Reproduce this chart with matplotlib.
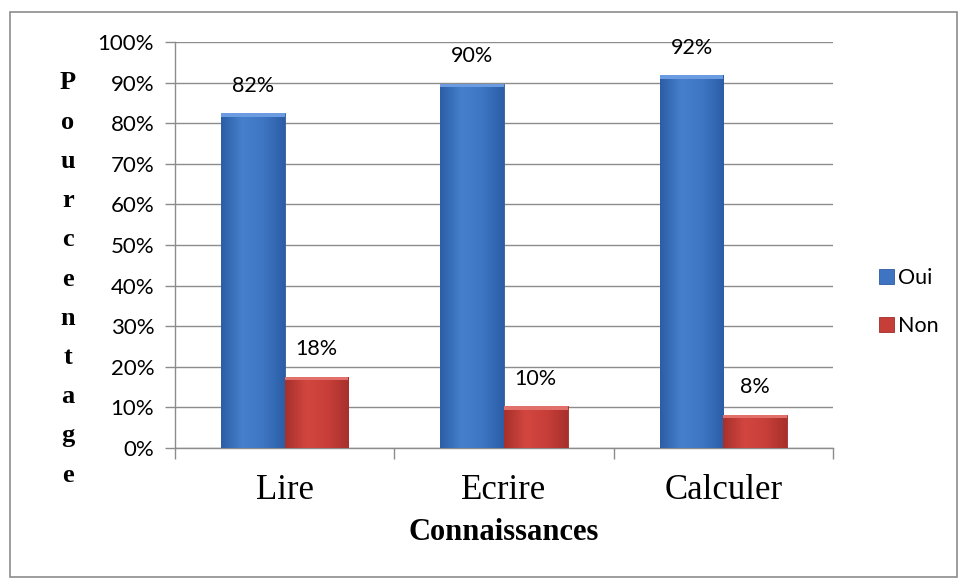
import numpy as np
import matplotlib.pyplot as plt
from matplotlib.patches import Rectangle
from matplotlib.colors import LinearSegmentedColormap

categories = ["Lire", "Ecrire", "Calculer"]
oui = [82.4, 89.7, 91.8]
non = [17.6, 10.3, 8.2]
oui_labels = ["82%", "90%", "92%"]
non_labels = ["18%", "10%", "8%"]
yticks = [0, 10, 20, 30, 40, 50, 60, 70, 80, 90, 100]

blue = "#3e74c2"
red = "#c63e38"
sans = ["Lato", "DejaVu Sans"]

blue_cm = LinearSegmentedColormap.from_list("b", ["#2c5ea6", "#4680cc", "#3e76c4", "#2c5ea6"])
red_cm = LinearSegmentedColormap.from_list("r", ["#a8302c", "#d2463f", "#c83f39", "#a8302c"])

fig = plt.figure(figsize=(9.6, 5.81), dpi=100)
# outer chart border
fig.patches.append(Rectangle((10 / 960, 4 / 581), 947 / 960, 565 / 581,
                             transform=fig.transFigure, fill=False,
                             edgecolor="#8c8c8c", linewidth=1.2))

ax = fig.add_axes([175 / 960, (581 - 448) / 581, 658 / 960, 406 / 581])
x = np.arange(len(categories))
w = 0.29
b1 = ax.bar(x - w / 2, oui, w, color=blue, edgecolor="#2d5a9e", linewidth=0.6, label="Oui", zorder=3)
b2 = ax.bar(x + w / 2, non, w, color=red, edgecolor="#9e2c28", linewidth=0.6, label="Non", zorder=3)

# shaded look like the office bevel bars
grad = np.linspace(0, 1, 64).reshape(1, -1)
for bars, cm, top in ((b1, blue_cm, "#6b9be0"), (b2, red_cm, "#e2706a")):
    for r in bars:
        x0, h, bw = r.get_x(), r.get_height(), r.get_width()
        im = ax.imshow(grad, extent=[x0, x0 + bw, 0, h], aspect="auto", cmap=cm,
                       zorder=3.1, interpolation="bicubic")
        im.set_clip_path(r)
        ax.add_patch(Rectangle((x0, h - 0.9), bw, 0.9, color=top, zorder=3.2, linewidth=0))

for bars, labs in ((b1, oui_labels), (b2, non_labels)):
    for r, t in zip(bars, labs):
        ax.text(r.get_x() + r.get_width() / 2, r.get_height() + 4.3, t,
                ha="center", va="bottom", fontsize=15.5, family=sans, zorder=4)

ax.set_xlim(-0.5, len(categories) - 0.5)
ax.set_ylim(0, 100)
ax.set_yticks(yticks)
ax.set_yticklabels([f"{v}%" for v in yticks], family=sans, fontsize=16)
ax.yaxis.grid(True, color="#8c8c8c", linewidth=1)
ax.set_axisbelow(True)

ax.set_xticks(x)
ax.set_xticklabels(categories, family="Liberation Serif", fontsize=25)
ax.set_xticks(np.arange(len(categories) + 1) - 0.5, minor=True)
ax.tick_params(axis="x", which="major", length=0, pad=19)
ax.tick_params(axis="x", which="minor", length=8, color="#8c8c8c", width=1)
ax.tick_params(axis="y", length=7, color="#8c8c8c", width=1, pad=8)

for s in ("top", "right"):
    ax.spines[s].set_visible(False)
for s in ("left", "bottom"):
    ax.spines[s].set_color("#8c8c8c")
    ax.spines[s].set_linewidth(1)

ax.set_xlabel("Connaissances", family="Liberation Serif", fontsize=22,
              fontweight="bold", labelpad=8)

# vertical stacked y label
ylabel = "Pourcentage"
for i, ch in enumerate(ylabel):
    fig.text(68 / 960, 1 - (83 + i * 39.2) / 581, ch, ha="center", va="center",
             family="Liberation Serif", fontsize=19, fontweight="bold")

ax.legend(loc="center left", bbox_to_anchor=(1.04, 0.36), frameon=False,
          prop={"family": sans, "size": 15.5}, handlelength=0.7, handleheight=0.7,
          handletextpad=0.2, labelspacing=1.3)

fig.savefig("out.png", dpi=100)
